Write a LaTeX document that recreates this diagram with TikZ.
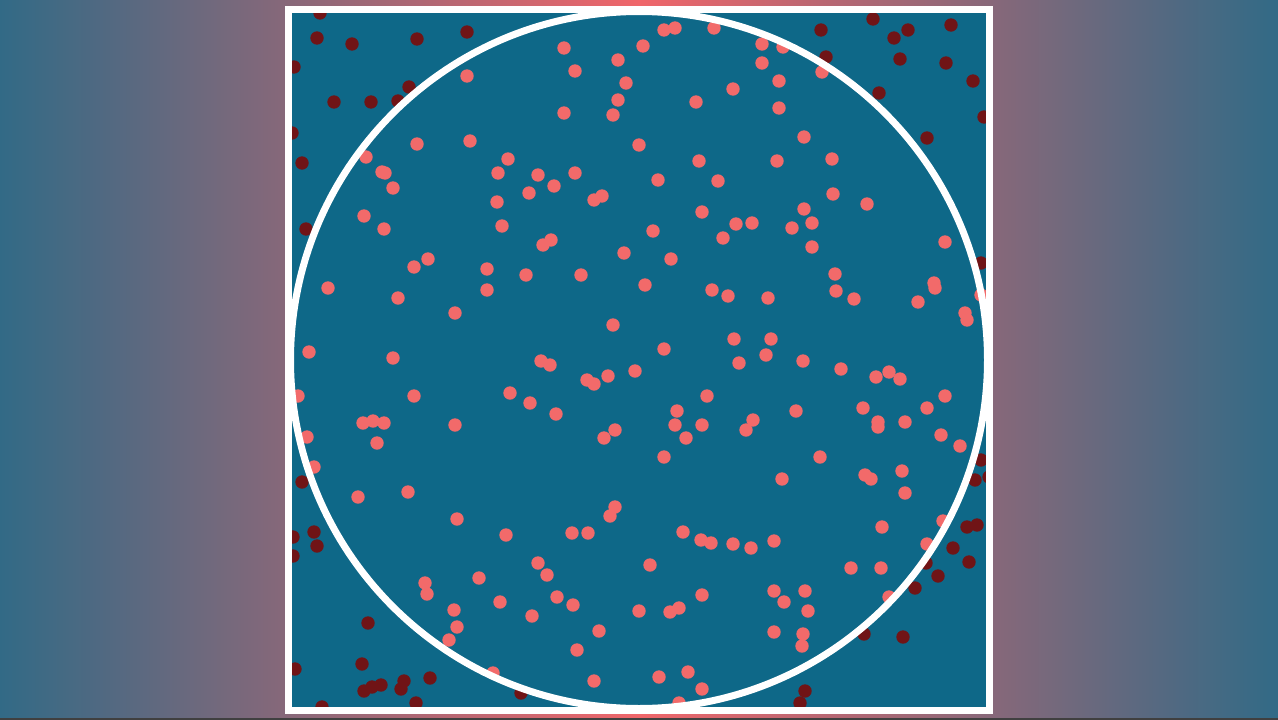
\documentclass[tikz,border=0pt]{standalone}
\definecolor{bgedge}{RGB}{50,106,134}
\definecolor{bgmid}{RGB}{240,102,106}
\definecolor{board}{RGB}{14,104,136}
\definecolor{hit}{RGB}{242,106,106}
\definecolor{miss}{RGB}{112,20,22}
\begin{document}
\begin{tikzpicture}[
  x=1pt, y=-1pt,
  hitdot/.style={fill=hit},
  missdot/.style={fill=miss},
  rim/.style={draw=white, line width=7pt}
]
\shade[left color=bgedge, right color=bgedge, middle color=bgmid] (0,0) rectangle (1278,720);
\fill[black!75] (0,718) rectangle (1278,720);
\fill[board] (288.5,9.5) rectangle (989.5,710);
\begin{scope}
\clip (288.5,9.5) rectangle (989.5,710);
\foreach \x/\y in {320/13, 317/38, 352/44, 417/39, 467/32, 294/67, 334/102, 371/102, 398/101, 409/87, 292/133, 302/163, 306/229,
  873/19, 821/30, 894/38, 908/30, 951/25, 826/57, 900/59, 946/63, 973/81, 879/93, 984/117, 927/138,
  981/263, 981/460, 975/480, 989/477,
  302/482, 314/532, 317/546, 293/537, 293/556, 368/623, 295/669, 362/664, 364/691, 372/687, 381/685, 404/681, 401/689, 430/678, 416/703, 322/707, 521/693,
  967/527, 977/525, 953/548, 969/562, 926/563, 938/576, 915/588, 864/634, 903/637, 805/691, 800/703}
  \fill[missdot] (\x,\y) circle (6.7);
\foreach \x/\y in {664/30, 675/28, 714/28, 564/48, 643/46, 618/60, 575/71, 626/83, 618/100, 613/115, 564/113, 696/102, 733/89, 639/145, 699/161, 718/181, 658/180, 575/173, 538/175, 554/186, 529/193, 594/200, 602/196, 702/212, 736/224, 752/223, 723/238, 653/231, 551/240, 543/245,
  762/44, 783/47, 762/63, 822/72, 779/81, 779/108, 804/137, 777/161, 832/159, 833/194, 867/204, 804/209, 812/223, 792/228, 812/247, 945/242,
  467/76, 417/144, 470/141, 366/157, 382/172, 385/173, 393/188, 508/159, 498/173, 497/202, 502/226, 364/216, 384/229,
  428/259, 414/267, 487/269, 487/290, 526/275, 328/288, 398/298, 455/313, 309/352, 393/358, 298/396, 414/396, 510/393, 363/423, 373/421, 384/423, 455/425, 307/437, 377/443, 314/467,
  624/253, 671/259, 581/275, 645/285, 712/290, 728/296, 613/325, 734/339, 664/349, 739/363, 541/361, 550/365, 587/380, 594/384, 608/376, 635/371, 530/403, 556/414, 707/396, 677/411, 675/425, 702/425, 686/438, 753/420, 746/430, 615/430, 604/438, 664/457,
  835/274, 836/291, 854/299, 768/298, 934/283, 935/288, 918/302, 965/313, 967/320, 981/295, 771/339, 766/355, 803/361, 841/369, 889/372, 876/377, 900/379, 945/396, 927/408, 863/408, 796/411, 878/422, 878/427, 905/422, 941/435, 960/446, 820/457, 782/479, 865/475, 871/479, 902/471,
  358/497, 408/492, 457/519, 506/535, 479/578, 425/583, 427/594, 500/602, 454/610, 457/627, 449/640, 493/673,
  615/507, 610/516, 572/533, 588/533, 683/532, 701/540, 711/543, 733/544, 751/548, 538/563, 547/575, 650/565, 557/597, 573/605, 532/616, 639/611, 670/612, 679/608, 702/595, 599/631, 577/650, 594/681, 659/677, 688/672, 702/689, 679/703,
  905/493, 943/521, 882/527, 774/541, 927/544, 851/568, 881/568, 774/591, 805/591, 784/602, 808/611, 889/597, 774/632, 803/634, 802/646}
  \fill[hitdot] (\x,\y) circle (6.7);
\end{scope}
\draw[rim] (639,360) circle (348.5);
\draw[rim] (288.5,9.5) rectangle (989.5,710);
\end{tikzpicture}
\end{document}
